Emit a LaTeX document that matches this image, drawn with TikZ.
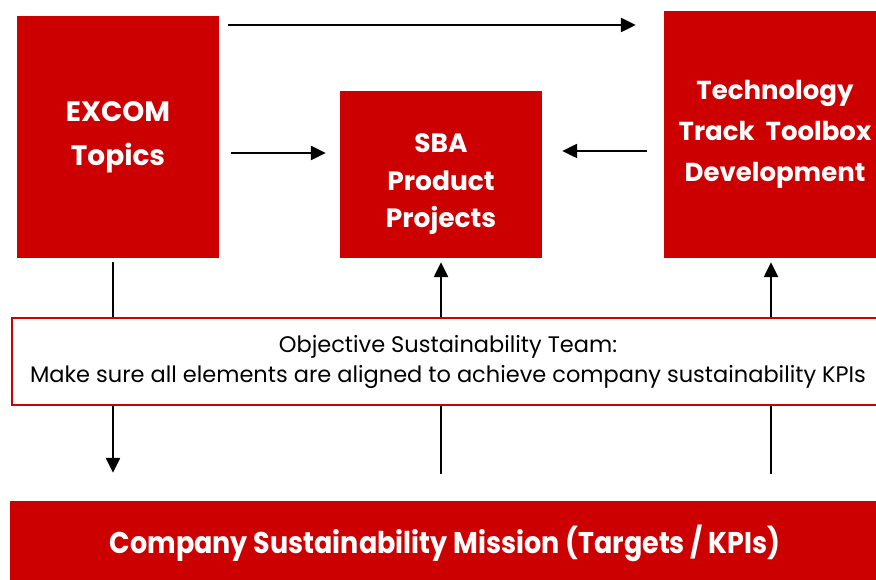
\documentclass[tikz,border=0pt]{standalone}
\usepackage{fontspec}
\setmainfont{Poppins}
\usetikzlibrary{arrows.meta,positioning}

\definecolor{boxred}{RGB}{204,0,0}

\begin{document}
\begin{tikzpicture}[x=1pt,y=1pt]
			\tikzstyle{Topic}	= [rectangle, fill=boxred, text=white, align=center, inner sep=0pt]
			\tikzstyle{Team}	= [rectangle, draw=boxred, line width=1.2pt, fill=white, align=center, inner sep=0pt]
			\tikzstyle{Flow}	= [line width=2.4pt, -{Triangle[length=15pt,width=14pt]}]

			\useasboundingbox (0,0) rectangle (876,579);

			\node (excom) at (118,442) [Topic, minimum width=202, minimum height=242, font=\bfseries\fontsize{28}{44}\selectfont] {EXCOM\\Topics};
			\node (sba) at (441,404.5) [Topic, minimum width=202, minimum height=167,
				label={[name=sbatext, yshift=-10, text=white, align=center, font=\bfseries\fontsize{26.5}{37.5}\selectfont]center:SBA\\Product\\Projects}] {};
			\node (tech) at (775,444.5) [Topic, minimum width=222, minimum height=247, font=\bfseries\fontsize{26}{41}\selectfont] {Technology\\Track\ \ Toolbox\\Development};
			\node (mission) at (445,36) [Topic, minimum width=870, minimum height=84, font=\bfseries\fontsize{30}{30}\selectfont] {\scalebox{0.9}[1]{Company Sustainability Mission (Targets / KPIs)}};

			% links between the boxes
			\draw [Flow] ([shift={(9,112)}]excom.east) to ([shift={(-28,109.5)}]tech.west);
			\draw [Flow] ([shift={(12,-16)}]excom.east) to ([shift={(-14,21.5)}]sba.west);
			\draw [Flow] ([shift={(-17,-16.5)}]tech.west) to ([shift={(20,23.5)}]sba.east);

			% links to the mission bar
			\draw [Flow] ([shift={(-5,-4)}]excom.south) to ([shift={(-332,28)}]mission.north);
			\draw [Flow] ([yshift=-216]sba.south) to ([yshift=-4]sba.south);
			\draw [Flow] ([shift={(-4,-216)}]tech.south) to ([shift={(-4,-4)}]tech.south);

			\node (team) at (448,217.5) [Team, minimum width=872, minimum height=87, font=\fontsize{22.5}{30}\selectfont] {Objective Sustainability Team:\\Make sure all elements are aligned to achieve company sustainability KPIs};

		\end{tikzpicture}
\end{document}
